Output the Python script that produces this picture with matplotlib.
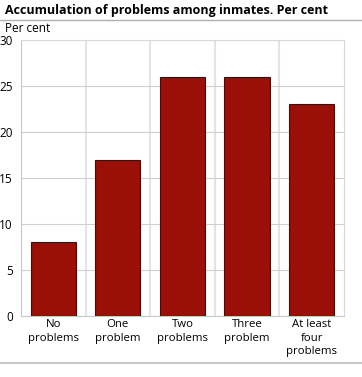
import matplotlib
matplotlib.use("Agg")
import matplotlib.pyplot as plt
from matplotlib.lines import Line2D

categories = ["No\nproblems", "One\nproblem", "Two\nproblems", "Three\nproblem", "At least\nfour\nproblems"]
values = [8, 17, 26, 26, 23]
yticks = [0, 5, 10, 15, 20, 25, 30]

plt.rcParams['font.family'] = ['Open Sans', 'DejaVu Sans']

fig = plt.figure(figsize=(3.62, 3.77), dpi=100)
ax = fig.add_axes([0.058, 0.162, 0.892, 0.732])

xs = list(range(len(categories)))
ax.bar(xs, values, width=0.7, color="#9a0f07", edgecolor="#4a0a05", linewidth=0.8, zorder=3)

ax.set_xlim(-0.5, len(categories) - 0.5)
ax.set_ylim(0, 30)
ax.set_yticks(yticks)
ax.set_xticks(xs)
ax.set_xticklabels(categories, fontsize=8.2, linespacing=1.28)
ax.tick_params(axis="y", labelsize=8.5, length=0, pad=6)
ax.tick_params(axis="x", length=0, pad=2.5)

ax.yaxis.grid(True, color="#d0d0d0", linewidth=0.8, zorder=0)
for b in range(1, len(categories)):
    ax.axvline(b - 0.5, color="#e4e4e4", linewidth=1.5, zorder=0)

for side in ["top", "right"]:
    ax.spines[side].set_color("#d8d8d8")
for side in ["left", "bottom"]:
    ax.spines[side].set_color("#c8c8c8")

fig.text(0.014, 0.972, "Accumulation of problems among inmates. Per cent",
         fontsize=9, fontweight="bold", va="center", ha="left")
fig.text(0.014, 0.924, "Per cent", fontsize=8.5, va="center", ha="left")

fig.add_artist(Line2D([0, 1], [0.947, 0.947], color="#b0b0b0", linewidth=1))
fig.add_artist(Line2D([0, 1], [0.037, 0.037], color="#c8c8c8", linewidth=1.5))

fig.savefig("out.png", dpi=100)
